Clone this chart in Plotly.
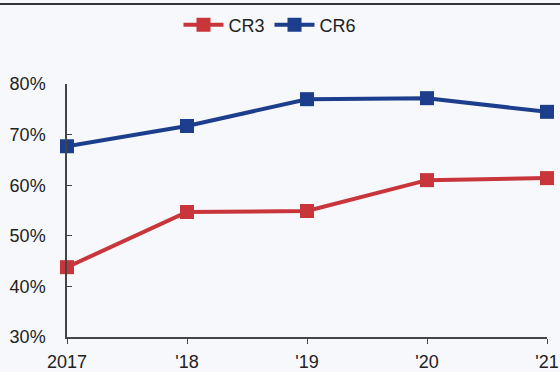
import plotly.graph_objects as go

years = [2017, 2018, 2019, 2020, 2021]
tick_labels = ["2017", "'18", "'19", "'20", "'21"]
cr3 = [43.8, 54.7, 54.9, 61.0, 61.4]
cr6 = [67.7, 71.7, 77.0, 77.2, 74.5]
y_ticks = [30, 40, 50, 60, 70, 80]

red = "#c8353b"
blue = "#1d3e8c"

fig = go.Figure()
fig.add_trace(go.Scatter(x=years, y=cr3, name="CR3", mode="lines+markers",
                         line=dict(color=red, width=4),
                         marker=dict(symbol="square", size=14, color=red),
                         cliponaxis=False))
fig.add_trace(go.Scatter(x=years, y=cr6, name="CR6", mode="lines+markers",
                         line=dict(color=blue, width=4),
                         marker=dict(symbol="square", size=14, color=blue),
                         cliponaxis=False))

fig.update_layout(
    width=560, height=372,
    margin=dict(l=67, r=13, t=84, b=35, autoexpand=False),
    paper_bgcolor="#f6f8fc", plot_bgcolor="#f6f8fc",
    font=dict(family="Liberation Sans, Arial, sans-serif", size=18, color="#222"),
    showlegend=True,
    legend=dict(orientation="h", x=270/560, xanchor="center", xref="container",
                y=1 - 25/372, yanchor="middle", yref="container",
                font=dict(family="Liberation Sans Narrow, Liberation Sans, Arial", size=18, color="#222"),
                bgcolor="rgba(0,0,0,0)", itemwidth=40, tracegroupgap=0),
    xaxis=dict(range=[2017, 2021], tickmode="array", tickvals=years, ticktext=tick_labels,
               automargin=False,
               showgrid=False, zeroline=False, showline=True, linecolor="#444", linewidth=1.5,
               ticks="outside", ticklen=5, tickcolor="#444", tickfont=dict(size=18),
               ticklabelstandoff=3),
    yaxis=dict(range=[30, 80], tickmode="array", tickvals=y_ticks,
               ticktext=[f"{v}%" for v in y_ticks], automargin=False,
               showgrid=False, zeroline=False, showline=True, linecolor="#444", linewidth=1.5,
               ticks="inside", ticklen=5, tickcolor="#444", tickfont=dict(size=18),
               ticklabelstandoff=16),
    shapes=[dict(type="line", xref="paper", yref="paper",
                 x0=-67/480, x1=493/480, y0=(337-4)/253, y1=(337-4)/253,
                 line=dict(color="#333", width=2))],
)

fig.write_html("out.html", config={"displayModeBar": False},
               post_script="document.body.style.margin='0';document.body.style.overflow='hidden';")
